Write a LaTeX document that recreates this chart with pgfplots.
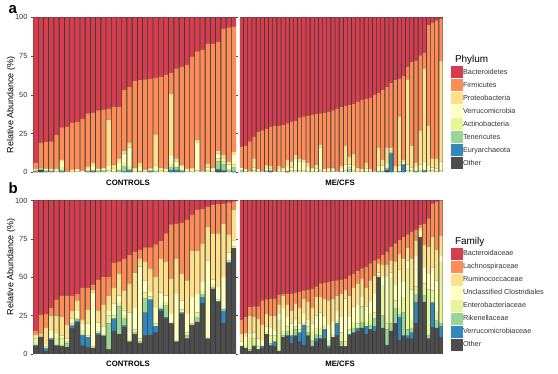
\documentclass[border=0pt]{standalone}
\usepackage{pgfplots}
\pgfplotsset{compat=1.18}
\usepackage{pgfplotstable}
\usepackage{fontspec}
\setmainfont{Liberation Sans}
\definecolor{k8}{HTML}{D53E4F}
\definecolor{k7}{HTML}{FC8D59}
\definecolor{k6}{HTML}{FEE08B}
\definecolor{k5}{HTML}{FFFFBF}
\definecolor{k4}{HTML}{E6F598}
\definecolor{k3}{HTML}{99D594}
\definecolor{k2}{HTML}{3288BD}
\definecolor{k1}{HTML}{4D4D4D}

% Panel a, CONTROLS: Other Euryarchaeota Tenericutes Actinobacteria Verrucomicrobia Proteobacteria Firmicutes Bacteroidetes
\pgfplotstableread{
x s1 s2 s3 s4 s5 s6 s7 s8
1 0.5 0 0 0.5 1 0 4 94
2 1.5 0 0.3 0.2 0.5 0.5 16 81
3 0 0.5 0 0.5 1 0.5 17 80.5
4 0 0.5 0 0.5 1 0 18 80
5 0 0 0 0.5 1 1 21.5 76
6 0 0.5 1 2 3 1.5 21 71
7 0 0 0 0 0.5 0 29 70.5
8 0 0 0 0.5 1 0 30.5 68
9 0 0 0 0.5 1 0.5 30.5 67.5
10 0 0 0 0 1 0 33.5 65.5
11 0 0.5 0 0.5 1 1.5 34.5 62
12 0.5 0 0.5 1 2 2 32.5 61.5
13 0 0 0.5 0.5 1 0.5 37.5 60
14 0 0 0.5 0.5 1 1 37.5 59.5
15 0 0 0 1 3 30 7 59
16 0 0 0 0.5 1 3.5 37 58
17 0 0 1 1 4 3 33 58
18 0 0.5 3.5 2 6 2 39 47
19 0 1 1 2 12 3 36 45
20 0 0 0 0.5 1 1.5 56 41
21 0 0 0.5 1 2 2.5 53.5 40.5
22 0 0 0 0.5 1 0 58.5 40
23 0 0.5 0.5 0.5 1 0.5 57.5 39.5
24 0 0 0.5 1 3 20 36.5 39
25 0 0 0 1 1 1 58.5 38.5
26 0 0 0 0.5 1 1 60.5 37
27 0 1.5 2 2 5 40 13.5 36
28 0 1.5 1.5 1 3 2 58 33
29 0 0.5 0.5 1 1.5 1.5 63 32
30 0 0 0 0.5 1 1 67 30.5
31 0 0 0 0.5 1 1.5 71.5 25.5
32 0 0 0 1 18 2 57 22
33 0 0 0 0.5 0.5 0 78 21
34 0 0 0 1 2 2.5 77.5 17
35 0 0 0 0.5 1.5 1 80 17
36 1 1 5 2 3 2 70 16
37 0.5 0.5 4 2 2 2 81.5 7.5
38 0 0 1 1 3 2 86.5 6.5
39 0 0.5 2.5 2 6 2 81 6
}\tblAC

% Panel a, ME/CFS
\pgfplotstableread{
x s1 s2 s3 s4 s5 s6 s7 s8
1 0 0 1 1 1 0 13.5 83.5
2 0 0 0 0.5 1 0.5 15 83
3 0 0 0 0 0.5 0.5 19 80
4 0 0 0 1 2 6 14 77
5 0 0 0 0.5 1 0.5 24 74
6 0 0 0 0 0.5 0.5 26 73
7 0 0 0.5 0.5 1 3 23 72
8 0 1 0 0.5 1 1.5 25.5 70.5
9 0 0 0 0 0.5 0.5 29 70
10 0 0 0 0.5 1 2.5 26 70
11 0 0 0 0.5 1 1.5 27.5 69.5
12 0.5 0 0 1 2 4.5 23.5 68.5
13 0 0 0 1 2 4 25.5 67.5
14 0 0 0 1 8 2 22 67
15 0 0 0 1 6 2 26.5 64.5
16 0 0 0 1 5 2 28 64
17 0 0 0 0.5 3 2.5 30.5 63.5
18 0 0 0 0.5 1 1.5 34 63
19 0 0 0 0.5 2 2.5 32.5 62.5
20 0 0 0 1 15 2 20 62
21 0 0 0 0.5 1 0.5 36.5 61.5
22 0 0 0 0.5 1 1.5 36 61
23 0 0 0 0.5 1.5 1 37 60
24 0 0 0 0 0.5 0.5 40 59
25 0 0 0 0.5 1.5 2 38 58
26 0 0 0 1 4 12 26 57
27 0 0 2 1 2 5 33.5 56.5
28 0 0 0 1 3 8 32 56
29 0 0 0 0.5 1 1.5 42.5 54.5
30 0 0 0 0.5 1 0.5 44.5 53.5
31 0 0 0 0.5 2 3.5 41.5 52.5
32 0 0 0 0.5 1 0.5 46 52
33 0 0 0 0 0.5 0.5 49 50
34 0 0 0.5 1 3 11.5 35 49
35 0 0 0.5 1 3 3.5 45 47
36 1 0.5 1 1 2 10.5 39 45
37 0 12 1 1 1 1 41.5 42.5
38 0 0 0 0.5 1 2.5 55.5 40.5
39 0 0.5 0 1 3 31.5 24.5 39.5
40 0 5 0 1 1 1 54 38
41 0 0 0 1 4 55 8 32
42 0 0 0 1 2 14 54 29
43 0 0.5 0 1 2 2.5 66 28
44 0 0 0 1 4 22 48.5 24.5
45 0 1 0 1 5 60 10 23
46 0 0 0 1 3 26 65 5
47 0 0 0 1 2 6 87.5 3.5
48 0 0 0 0.5 2 6.5 89 2
49 0 0 0 1 6 65 27 1
}\tblAM

% Panel b, CONTROLS: Other Verrucomicrobiaceae Rikenellaceae Enterobacteriaceae Unclassified Ruminococcaceae Lachnospiraceae Bacteroidaceae
\pgfplotstableread{
x s1 s2 s3 s4 s5 s6 s7 s8
1 5 1 0 4 1 1.5 2.5 85
2 11 0 0 0.5 0.5 1 12.5 74.5
3 2 1.5 0.5 1 1 11 9 74
4 9 1 0 1 4 10 5 70
5 5 1 0 5 2 12 10.5 64.5
6 5 0 1 4 2 12 14 62
7 4.5 0 2.5 1 2 9 19 62
8 16.5 2 0 1.5 3 5 10 62
9 20.5 1 1 1.5 4 7 4 61
10 5.5 7 0 3 4 3 20.5 57
11 4.5 6.5 0 1 8 9 14 57
12 4 0 0 1 35 2 3 55
13 12.5 1 0 1 6 8 20 51.5
14 11.5 0.5 0 1 5 14 18 50
15 3 0 17 5 3 10 12 50
16 15 8 0 2 8 10 16.6 40.4
17 13 0 18 3 4 14 8 40
18 17.5 1 5 2 3 13 20.5 38
19 8 0 0 1 18 19 18.4 35.6
20 13 0 1 2 14 23 13.6 33.4
21 7 0 1 2 47 5 5.7 32.3
22 12 15 9 4 8 12 9.4 30.6
23 12.5 23 0 2 3 15 13.9 30.6
24 14 4 0 2 10 20 21.4 28.6
25 28 1 1 2 8 22 11.6 26.4
26 23 1 8 2 4 22 18.6 21.4
27 20 0 0 1 5 23 35.5 15.5
28 8 0 0 1 30 23 23 15
29 26 1 0 2 6 17 33.6 14.4
30 10 0 2 2 12 22 39.3 12.7
31 19 0 0 1 17 30 23.6 9.4
32 21 0 3 3 12 28 27 6
33 33 4 2 2 6 25 22.3 5.7
34 10 0 0 1 50 22 13 4
35 42.5 0 1 2 3 30 18.5 3
36 34 0.5 0 1 8 35 19.1 2.4
37 20 8 1 1 20 35 13 2
38 59 1 0 1 5 12 20.7 1.3
39 69 0 0 1 4 20 5.5 0.5
}\tblBC

% Panel b, ME/CFS
\pgfplotstableread{
x s1 s2 s3 s4 s5 s6 s7 s8
1 5 0 0 1 2 5 9 78
2 4 0 0 2 5 3 10 76
3 2 0 1 8 2 12 5.5 69.5
4 5 0 1 4 4 10 7 69
5 3 0 0 2 5 13 8 69
6 4 1 0 1 3 10 16 65
7 13 0 0 2 3 8 9.6 64.4
8 5 1 1 5 5 8 11 64
9 5 3 0 4 3 10 11 64
10 2 0 0 20 4 6 6.6 61.4
11 11 0 1 3 15 8 1 61
12 12 0 3 3 6 8 7.3 60.7
13 7 5 0 3 5 8 11.3 60.7
14 12 0 4 2 5 10 7 60
15 8 6 0 2 4 10 10.4 59.6
16 6 13 0 2 5 10 5.5 58.5
17 12 0 2 4 4 12 8 58
18 5 0 4 6 5 10 12.6 57.4
19 8 2 3 4 8 12 7 56
20 10 0 2 5 10 10 9 54
21 10 6 0 3 5 12 10.3 53.7
22 4 1 1 3 10 16 12 53
23 11 0 0 2 8 15 11.4 52.6
24 12 8 0 2 6 10 10 52
25 5 0 3 6 10 15 9.5 51.5
26 5 0 0 3 28 6 7 51
27 12 1 0 3 8 14 13.3 48.7
28 14 0 3 4 10 12 9.4 47.6
29 15 2 0 3 12 14 8 46
30 17 0 4 10 6 12 6.7 44.3
31 13 5 0 3 10 12 14 43
32 16 0 3 7 8 14 11 41
33 15 3 5 4 12 12 10 39
34 50 0 0 1 2 6 3 38
35 17 0 8 20 5 8 6.4 35.6
36 6 0 10 4 30 8 8.6 33.4
37 15 0 5 30 3 8 9 30
38 20 0 10 5 10 15 12 28
39 9 15 2 4 25 10 9.2 25.8
40 12 0 15 10 10 15 14.4 23.6
41 10 2 4 40 5 8 9 22
42 10 4 3 5 20 20 17.7 20.3
43 20 14 5 5 20 10 6.8 19.2
44 76 0 0 1 3 2 2 16
45 34 0 4 8 10 15 14 15
46 10 0 2 30 10 18 18.4 11.6
47 17.5 16 0 8 15 20 21.5 2
48 17 0 5 6 20 20 31.3 0.7
49 11 7 2 40 4 13 23 0
}\tblBM

\newcommand{\stackbars}[1]{%
\addplot[fill=k1] table[x=x,y=s1]{#1};
\addplot[fill=k2] table[x=x,y=s2]{#1};
\addplot[fill=k3] table[x=x,y=s3]{#1};
\addplot[fill=k4] table[x=x,y=s4]{#1};
\addplot[fill=k5] table[x=x,y=s5]{#1};
\addplot[fill=k6] table[x=x,y=s6]{#1};
\addplot[fill=k7] table[x=x,y=s7]{#1};
\addplot[fill=k8] table[x=x,y=s8]{#1};}

\pgfplotsset{
  facet/.style={
    scale only axis, width=203.5bp, anchor=south west,
    ymin=0, ymax=100, enlargelimits=false,
    ybar stacked,
    axis background/.style={fill=black!78},
    axis line style={draw=none},
    xtick=\empty,
    tick align=outside, major tick length=2bp,
    tick style={black!70, line width=0.5bp},
    /pgf/number format/assume math mode=true,
    yticklabel style={font=\fontsize{7.5}{8}\selectfont, text=black!80},
    every axis plot/.append style={draw=none},
  },
  leftfacet/.style={facet, xmin=0.5, xmax=39.5, bar width=0.83, ytick={0,25,50,75,100}},
  rightfacet/.style={facet, xmin=0.5, xmax=49.5, bar width=0.79, ytick=\empty},
  leg/.style={
    reverse legend,
    legend cell align=left,
    legend image code/.code={\fill[##1,draw=none] (0bp,-6bp) rectangle (12bp,6bp);},
    legend style={at={(#1)}, anchor=north west, draw=none, fill=none,
      inner sep=0pt, outer sep=0pt, row sep=1bp,
      font=\fontsize{7.3}{8}\selectfont, text=black!80,
      nodes={inner sep=0pt},
      /tikz/every even column/.append style={column sep=2.5bp}},
  },
}

\begin{document}
\begin{tikzpicture}
\path[use as bounding box] (0bp,0bp) rectangle (558bp,374bp);

% Panel a
\begin{axis}[leftfacet, height=155bp, at={(33bp,201.7bp)}]
\stackbars{\tblAC}
\end{axis}
\begin{axis}[rightfacet, height=155bp, at={(239.5bp,201.7bp)}, leg={1.0393,0.6826}]
\stackbars{\tblAM}
\legend{Other,Euryarchaeota,Tenericutes,Actinobacteria,Verrucomicrobia,Proteobacteria,Firmicutes,Bacteroidetes}
\end{axis}

% Panel b
\begin{axis}[leftfacet, height=153.5bp, at={(33bp,20bp)}]
\stackbars{\tblBC}
\end{axis}
\begin{axis}[rightfacet, height=153.5bp, at={(239.5bp,20bp)}, leg={1.0393,0.6906}]
\stackbars{\tblBM}
\legend{Other,Verrucomicrobiaceae,Rikenellaceae,Enterobacteriaceae,Unclassified Clostridiales,Ruminococcaceae,Lachnospiraceae,Bacteroidaceae}
\end{axis}

% labels
\node[anchor=base west, font=\bfseries\fontsize{15}{15}\selectfont] at (5bp,360bp) {a};
\node[anchor=base west, font=\bfseries\fontsize{15}{15}\selectfont] at (5bp,180bp) {b};
\node[rotate=90, font=\fontsize{9}{10}\selectfont] at (11bp,269bp) {Relative Abundance (\%)};
\node[rotate=90, font=\fontsize{9}{10}\selectfont] at (11bp,107bp) {Relative Abundance (\%)};
\node[font=\bfseries\fontsize{7.8}{9}\selectfont] at (128bp,191bp) {CONTROLS};
\node[font=\bfseries\fontsize{7.8}{9}\selectfont] at (340bp,191bp) {ME/CFS};
\node[font=\bfseries\fontsize{7.8}{9}\selectfont] at (128bp,10.5bp) {CONTROLS};
\node[font=\bfseries\fontsize{7.8}{9}\selectfont] at (340bp,10.5bp) {ME/CFS};
\node[anchor=base west, font=\fontsize{10}{12}\selectfont] at (451.5bp,311.5bp) {Phylum};
\node[anchor=base west, font=\fontsize{10}{12}\selectfont] at (451.5bp,129bp) {Family};
\end{tikzpicture}
\end{document}
